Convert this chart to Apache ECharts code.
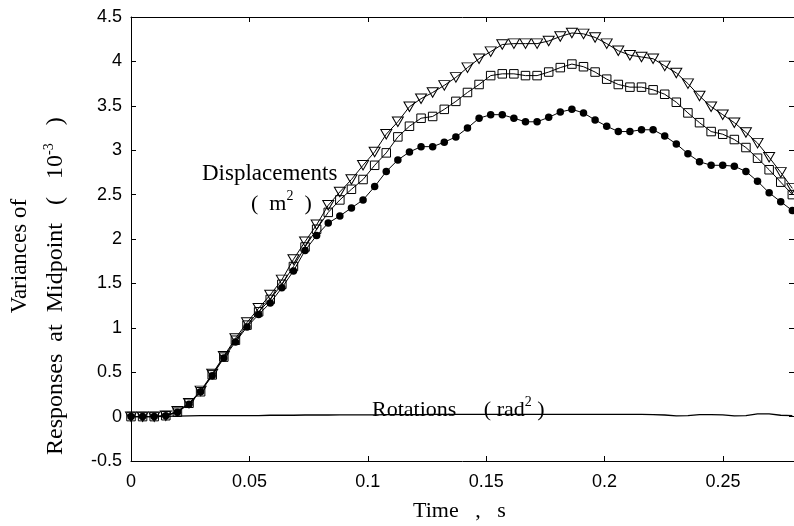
<!DOCTYPE html>
<html><head><meta charset="utf-8">
<script src="https://cdn.jsdelivr.net/npm/echarts@6/dist/echarts.min.js"></script>
<style>html,body{margin:0;padding:0;background:#fff}#c{width:794px;height:526px}</style>
</head><body><div id="c"></div>
<script>
const times = [0, 0.0049, 0.0098, 0.0147, 0.0196, 0.0245, 0.0294, 0.0343, 0.0392, 0.0441,
  0.049, 0.0539, 0.0588, 0.0637, 0.0686, 0.0735, 0.0784, 0.0833, 0.0882, 0.0931,
  0.098, 0.1029, 0.1078, 0.1127, 0.1176, 0.1225, 0.1274, 0.1323, 0.1372, 0.1421,
  0.147, 0.1519, 0.1568, 0.1617, 0.1666, 0.1715, 0.1764, 0.1813, 0.1862, 0.1911,
  0.196, 0.2009, 0.2058, 0.2107, 0.2156, 0.2205, 0.2254, 0.2303, 0.2352, 0.2401,
  0.245, 0.2499, 0.2548, 0.2597, 0.2646, 0.2695, 0.2744, 0.2793];

const dispCircle = [0, 0, 0, 0.01, 0.05, 0.14, 0.28, 0.46, 0.66, 0.84,
  1.01, 1.15, 1.28, 1.45, 1.64, 1.87, 2.04, 2.18, 2.26, 2.35,
  2.44, 2.59, 2.76, 2.89, 2.98, 3.04, 3.04, 3.09, 3.15, 3.25,
  3.36, 3.40, 3.40, 3.36, 3.32, 3.32, 3.37, 3.43, 3.46, 3.42,
  3.34, 3.27, 3.21, 3.21, 3.23, 3.23, 3.16, 3.07, 2.96, 2.87,
  2.83, 2.83, 2.82, 2.76, 2.65, 2.52, 2.42, 2.32];

const dispSquare = [0, 0, 0, 0.01, 0.05, 0.15, 0.28, 0.47, 0.67, 0.86,
  1.03, 1.18, 1.32, 1.49, 1.69, 1.91, 2.11, 2.30, 2.44, 2.56,
  2.67, 2.83, 2.97, 3.15, 3.27, 3.36, 3.38, 3.46, 3.55, 3.65,
  3.74, 3.84, 3.86, 3.86, 3.84, 3.84, 3.88, 3.93, 3.97, 3.94,
  3.88, 3.80, 3.74, 3.71, 3.71, 3.68, 3.63, 3.54, 3.42, 3.31,
  3.21, 3.18, 3.12, 3.03, 2.91, 2.78, 2.64, 2.50];

const dispTriangle = [0, 0, 0, 0.01, 0.06, 0.15, 0.29, 0.48, 0.68, 0.88,
  1.06, 1.22, 1.37, 1.54, 1.77, 1.97, 2.16, 2.38, 2.53, 2.67,
  2.83, 2.98, 3.18, 3.32, 3.49, 3.58, 3.65, 3.73, 3.82, 3.93,
  4.03, 4.11, 4.19, 4.20, 4.20, 4.20, 4.23, 4.28, 4.32, 4.31,
  4.27, 4.20, 4.12, 4.07, 4.05, 4.03, 3.95, 3.87, 3.75, 3.61,
  3.49, 3.40, 3.31, 3.20, 3.08, 2.92, 2.75, 2.57];

const rotations = [0, 0, 0, 0.002, 0.005, 0.008, 0.01, 0.01, 0.01, 0.01,
  0.012, 0.012, 0.015, 0.015, 0.015, 0.018, 0.018, 0.018, 0.02, 0.02,
  0.02, 0.02, 0.022, 0.022, 0.022, 0.022, 0.025, 0.025, 0.025, 0.025,
  0.025, 0.025, 0.025, 0.025, 0.025, 0.025, 0.025, 0.025, 0.025, 0.025,
  0.025, 0.025, 0.025, 0.025, 0.025, 0.022, 0.018, 0.008, 0.012, 0.022,
  0.022, 0.02, 0.008, 0.012, 0.03, 0.03, 0.015, 0.01];

const xAxisRange = [0, 0.28, 0.05];
const yAxisRange = [-0.5, 4.5, 0.5];

const serif = 'Liberation Serif';
const sans = 'Liberation Sans';

function pairs(v) { return times.map((t, i) => [t, v[i]]); }

const chart = echarts.init(document.getElementById('c'), null, {renderer: 'canvas'});

const axisCommon = {
  type: 'value',
  axisLine: {show: true, onZero: false, lineStyle: {color: '#000', width: 1}},
  axisTick: {show: true, inside: true, length: 5, lineStyle: {color: '#000', width: 1}},
  splitLine: {show: false}
};

function richSup(size) {
  return {
    a: {fontFamily: serif, fontSize: size, lineHeight: 26, verticalAlign: 'bottom', fill: '#000'},
    s: {fontFamily: serif, fontSize: 14, lineHeight: 26, verticalAlign: 'top', fill: '#000'}
  };
}

chart.setOption({
  animation: false,
  backgroundColor: '#fff',
  grid: {left: 131, width: 669, top: 17, bottom: 65, containLabel: false},
  xAxis: [
    Object.assign({}, axisCommon, {
      position: 'bottom', min: xAxisRange[0], max: xAxisRange[1], interval: xAxisRange[2],
      axisLabel: {color: '#000', fontFamily: sans, fontSize: 18, margin: 12, showMaxLabel: false}
    }),
    Object.assign({}, axisCommon, {
      position: 'top', min: xAxisRange[0], max: xAxisRange[1], interval: xAxisRange[2],
      axisLabel: {show: false}
    })
  ],
  yAxis: [
    Object.assign({}, axisCommon, {
      position: 'left', min: yAxisRange[0], max: yAxisRange[1], interval: yAxisRange[2],
      axisLabel: {color: '#000', fontFamily: sans, fontSize: 18, margin: 9}
    }),
    Object.assign({}, axisCommon, {
      position: 'right', min: yAxisRange[0], max: yAxisRange[1], interval: yAxisRange[2],
      axisLabel: {show: false}
    })
  ],
  series: [
    {
      type: 'line', name: 'Rotations', data: pairs(rotations), symbol: 'none',
      lineStyle: {color: '#000', width: 1.3}, z: 1
    },
    {
      type: 'line', name: 'disp1', data: pairs(dispCircle), symbol: 'circle', symbolSize: 7.5,
      showAllSymbol: true,
      itemStyle: {color: '#000', borderColor: '#000', borderWidth: 0},
      lineStyle: {color: '#000', width: 1}, z: 3
    },
    {
      type: 'line', name: 'disp2', data: pairs(dispSquare), symbol: 'rect', symbolSize: 8.5,
      showAllSymbol: true,
      itemStyle: {color: 'rgba(255,255,255,0)', borderColor: '#000', borderWidth: 1},
      lineStyle: {color: '#000', width: 1}, z: 3
    },
    {
      type: 'line', name: 'disp3', data: pairs(dispTriangle), symbol: 'triangle', symbolRotate: 180,
      symbolSize: [11, 9.5], showAllSymbol: true,
      itemStyle: {color: 'rgba(255,255,255,0)', borderColor: '#000', borderWidth: 1},
      lineStyle: {color: '#000', width: 1}, z: 3
    }
  ],
  graphic: [
    {
      type: 'text', x: 202, y: 174,
      style: {text: 'Displacements', font: '23px "Liberation Serif"', fill: '#000', align: 'left', verticalAlign: 'middle'}
    },
    {
      type: 'text', x: 251, y: 202,
      style: {text: '{a|(  m}{s|2}{a|  )}', align: 'left', verticalAlign: 'middle', fill: '#000', rich: richSup(22)}
    },
    {
      type: 'text', x: 372, y: 408,
      style: {text: '{a|Rotations     ( rad}{s|2}{a| )}', align: 'left', verticalAlign: 'middle', fill: '#000', rich: richSup(22)}
    },
    {
      type: 'text', x: 413, y: 511,
      style: {text: 'Time   ,   s', font: '22px "Liberation Serif"', fill: '#000', align: 'left', verticalAlign: 'middle'}
    },
    {
      type: 'text', x: 20, y: 256, rotation: Math.PI / 2,
      style: {text: 'Variances of', font: '23px "Liberation Serif"', fill: '#000', align: 'center', verticalAlign: 'middle'}
    },
    {
      type: 'text', x: 55, y: 455, rotation: Math.PI / 2,
      style: {text: '{a|Responses  at  Midpoint   (   10}{s|-3}{a|   )}', align: 'left', verticalAlign: 'middle', fill: '#000', rich: richSup(24)}
    }
  ]
});
</script>
</body></html>
